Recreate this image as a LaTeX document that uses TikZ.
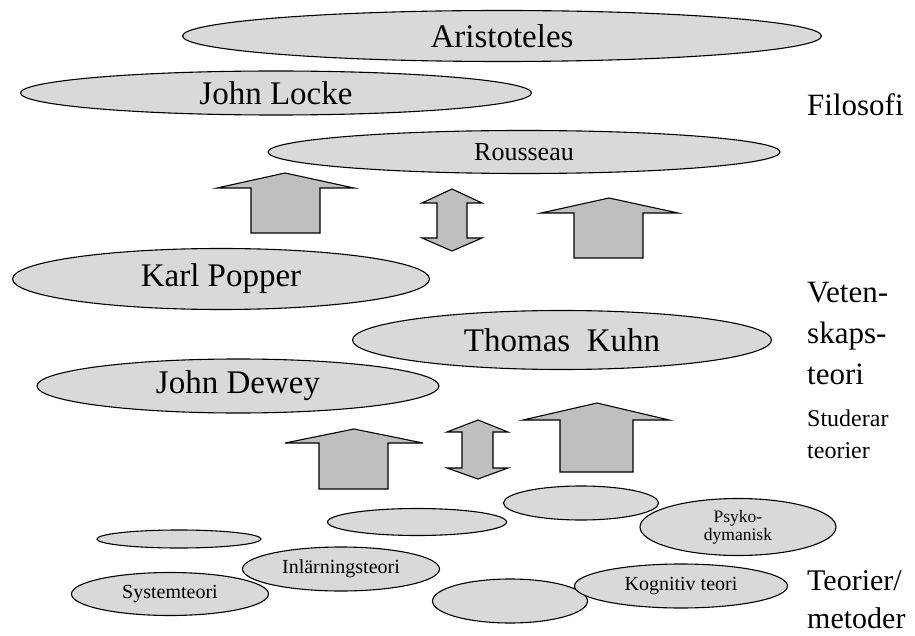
\documentclass[tikz,border=0pt]{standalone}
\usepackage{fontspec}
\setmainfont{Liberation Serif}
\usetikzlibrary{shapes.geometric}

\definecolor{ovalgray}{gray}{0.85}
\definecolor{arrowgray}{gray}{0.75}

\begin{document}
\begin{tikzpicture}[x=1pt, y=-1pt]
\tikzstyle{every node}=[inner sep=0pt]
\tikzstyle{oval}=[ellipse, draw, line width=1.1pt, fill=ovalgray]
\tikzstyle{bigname}=[font=\fontsize{33}{40}\selectfont]
\tikzstyle{smallname}=[font=\fontsize{20}{20}\selectfont]
\tikzstyle{arrowbox}=[draw, line width=1.1pt, fill=arrowgray, line join=miter]
\tikzstyle{side}=[anchor=base west, align=left]

\useasboundingbox (0,0) rectangle (915,636);

% filosofi
\node[oval, bigname, minimum width=639, minimum height=51] at (502,36) (arist) {Aristoteles};
\node[oval, bigname, minimum width=511, minimum height=44] at (276,93) (locke) {John Locke};
\node[oval, font=\fontsize{26}{30}\selectfont, minimum width=512, minimum height=43] at (524,152) (rousseau) {Rousseau};

\draw[arrowbox] (285,173) -- (354,188) -- (320,188) -- (320,233) -- (251,233) -- (251,188) -- (217,188) -- cycle;
\draw[arrowbox] (452,189) -- (482,203) -- (467,203) -- (467,238) -- (482,238) -- (452,251)
    -- (422,238) -- (437,238) -- (437,203) -- (422,203) -- cycle;
\draw[arrowbox] (609,198) -- (678,213) -- (643,213) -- (643,258) -- (574,258) -- (574,213) -- (541,213) -- cycle;

% vetenskapsteori
\node[oval, bigname, minimum width=417, minimum height=61] at (221,279) (popper) {Karl Popper};
\node[oval, bigname, minimum width=419, minimum height=59] at (562,340) (kuhn) {Thomas\ \ Kuhn};
\node[oval, bigname, minimum width=402, minimum height=54] at (238,386) (dewey) {John Dewey};

\draw[arrowbox] (354,429) -- (423,443) -- (388,443) -- (388,489) -- (319,489) -- (319,443) -- (285,443) -- cycle;
\draw[arrowbox] (478,420) -- (508,432) -- (493,432) -- (493,468) -- (508,468) -- (478,479)
    -- (447,468) -- (462,468) -- (462,432) -- (447,432) -- cycle;
\draw[arrowbox] (597,403) -- (669,420) -- (633,420) -- (633,472) -- (560,472) -- (560,420) -- (523,420) -- cycle;

% teorier och metoder
\node[oval, minimum width=164, minimum height=18] at (179,539) (tom1) {};
\node[oval, minimum width=179, minimum height=27] at (417,522) (tom2) {};
\node[oval, minimum width=155, minimum height=34] at (581,503) (tom3) {};
\node[oval, font=\fontsize{17.5}{18}\selectfont, align=center, minimum width=196, minimum height=57] at (738,527) (psyko) {Psyko-\\dymanisk};
\node[oval, smallname, minimum width=197, minimum height=43] at (170,594) (system) {Systemteori};
\node[oval, smallname, minimum width=197, minimum height=44] at (341,569) (inlarning) {Inlärningsteori};
\node[oval, minimum width=155, minimum height=44] at (510,601) (tom4) {};
\node[oval, smallname, minimum width=213, minimum height=44] at (681,586) (kognitiv) {Kognitiv teori};

% etiketter till hoger (base = sista raden)
\node[side, font=\fontsize{31}{41}\selectfont] at (807,116) (filosofi) {Filosofi};
\node[side, font=\fontsize{31}{41}\selectfont] at (807,384) (vetenskap) {Veten-\\skaps-\\teori};
\node[side, font=\fontsize{24}{32}\selectfont] at (807,458) (studerar) {Studerar\\teorier};
\node[side, font=\fontsize{30}{38}\selectfont] at (807,628) (metoder) {Teorier/\\metoder};
\end{tikzpicture}
\end{document}
